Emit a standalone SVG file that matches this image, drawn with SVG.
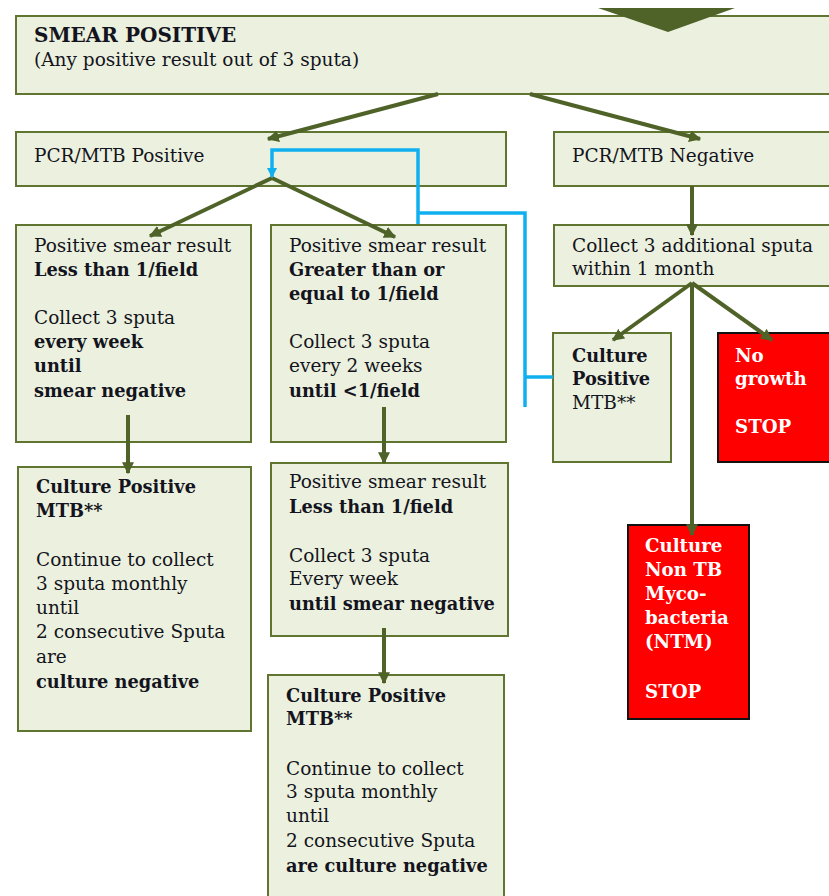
<svg xmlns="http://www.w3.org/2000/svg" width="829" height="896" viewBox="0 0 829 896">
<defs>
<style>
.box{fill:#ebf1de;stroke:#5f7530;stroke-width:2}
.red{fill:#ff0000;stroke:#111;stroke-width:2}
text{font-family:"DejaVu Serif","Liberation Serif",serif;font-size:18.5px;fill:#141420}
.b{font-weight:bold;font-size:17.8px}
.h{font-weight:bold;font-size:20px}
.w{fill:#ffffff;font-weight:bold;font-size:18.2px}
.g{fill:none;stroke:#4f6228;stroke-width:4}
.bl{fill:none;stroke:#10b0f0;stroke-width:3.5}
</style>
<marker id="ag" viewBox="0 0 10 10" refX="9" refY="5" markerWidth="12" markerHeight="12" markerUnits="userSpaceOnUse" orient="auto"><path d="M0,0 L10,5 L0,10 z" fill="#4f6228"/></marker>
<marker id="ab" viewBox="0 0 10 10" refX="9" refY="5" markerWidth="10" markerHeight="10" markerUnits="userSpaceOnUse" orient="auto"><path d="M0,0 L10,5 L0,10 z" fill="#10b0f0"/></marker>
</defs>
<rect width="829" height="896" fill="#ffffff"/>

<g id="smear">
<rect class="box" x="16" y="16" width="830" height="78"/>
<text x="34" y="42" class="h">SMEAR POSITIVE</text>
<text x="34" y="66">(Any positive result out of 3 sputa)</text>
</g>
<polygon points="598,8 735,8 668,32" fill="#4f6228"/>

<g id="pcrpos">
<rect class="box" x="16" y="132" width="490" height="54"/>
<text x="34" y="162">PCR/MTB Positive</text>
</g>
<g id="pcrneg">
<rect class="box" x="554" y="132" width="290" height="54"/>
<text x="572" y="162">PCR/MTB Negative</text>
</g>

<g id="less1">
<rect class="box" x="16" y="225" width="235" height="217"/>
<text x="34" y="252">Positive smear result</text>
<text x="34" y="276" class="b">Less than 1/field</text>
<text x="34" y="324">Collect 3 sputa</text>
<text x="34" y="348" class="b">every week</text>
<text x="34" y="372" class="b">until</text>
<text x="34" y="397" class="b">smear negative</text>
</g>

<g id="greater1">
<rect class="box" x="271" y="225" width="235" height="217"/>
<text x="289" y="252">Positive smear result</text>
<text x="289" y="276" class="b">Greater than or</text>
<text x="289" y="300" class="b">equal to 1/field</text>
<text x="289" y="348">Collect 3 sputa</text>
<text x="289" y="372">every 2 weeks</text>
<text x="289" y="397" class="b">until &lt;1/field</text>
</g>

<g id="collect3">
<rect class="box" x="554" y="225" width="290" height="61"/>
<text x="572" y="252">Collect 3 additional sputa</text>
<text x="572" y="275">within 1 month</text>
</g>

<g id="culturepos_small">
<rect class="box" x="553" y="333" width="118" height="129"/>
<text x="572" y="362" class="b">Culture</text>
<text x="572" y="385" class="b">Positive</text>
<text x="572" y="409">MTB**</text>
</g>

<g id="nogrowth">
<rect class="red" x="718" y="333" width="130" height="129"/>
<text x="735" y="362" class="w">No</text>
<text x="735" y="385" class="w">growth</text>
<text x="735" y="433" class="w">STOP</text>
</g>

<g id="ntm">
<rect class="red" x="628" y="525" width="121" height="194"/>
<text x="645" y="552" class="w">Culture</text>
<text x="645" y="576" class="w">Non TB</text>
<text x="645" y="600" class="w">Myco-</text>
<text x="645" y="624" class="w">bacteria</text>
<text x="645" y="648" class="w">(NTM)</text>
<text x="645" y="698" class="w">STOP</text>
</g>

<g id="culture_left">
<rect class="box" x="18" y="467" width="233" height="264"/>
<text x="36" y="493" class="b">Culture Positive</text>
<text x="36" y="517" class="b">MTB**</text>
<text x="36" y="566">Continue to collect</text>
<text x="36" y="590">3 sputa monthly</text>
<text x="36" y="614">until</text>
<text x="36" y="638">2 consecutive Sputa</text>
<text x="36" y="663">are</text>
<text x="36" y="688" class="b">culture negative</text>
</g>

<g id="less1_mid">
<rect class="box" x="271" y="463" width="237" height="173"/>
<text x="289" y="488">Positive smear result</text>
<text x="289" y="513" class="b">Less than 1/field</text>
<text x="289" y="562">Collect 3 sputa</text>
<text x="289" y="585">Every week</text>
<text x="289" y="610" class="b">until smear negative</text>
</g>

<g id="culture_mid">
<rect class="box" x="268" y="675" width="236" height="240"/>
<text x="286" y="702" class="b">Culture Positive</text>
<text x="286" y="725" class="b">MTB**</text>
<text x="286" y="775">Continue to collect</text>
<text x="286" y="798">3 sputa monthly</text>
<text x="286" y="822">until</text>
<text x="286" y="847">2 consecutive Sputa</text>
<text x="286" y="872" class="b">are culture negative</text>
</g>

<g id="connectors">
<line class="g" x1="438" y1="94" x2="268" y2="139" marker-end="url(#ag)"/>
<line class="g" x1="530" y1="94" x2="700" y2="139" marker-end="url(#ag)"/>
<line class="g" x1="272" y1="178" x2="150" y2="236" marker-end="url(#ag)"/>
<line class="g" x1="272" y1="178" x2="395" y2="237" marker-end="url(#ag)"/>
<line class="g" x1="692" y1="186" x2="692" y2="235" marker-end="url(#ag)"/>
<line class="g" x1="692" y1="283" x2="613" y2="340" marker-end="url(#ag)"/>
<line class="g" x1="692" y1="283" x2="772" y2="340" marker-end="url(#ag)"/>
<line class="g" x1="692" y1="283" x2="692" y2="535" marker-end="url(#ag)"/>
<line class="g" x1="128" y1="415" x2="128" y2="473" marker-end="url(#ag)"/>
<line class="g" x1="384" y1="407" x2="384" y2="463" marker-end="url(#ag)"/>
<line class="g" x1="384" y1="628" x2="384" y2="683" marker-end="url(#ag)"/>
<path class="bl" d="M418,224 V150 H272 V177" marker-end="url(#ab)"/>
<path class="bl" d="M418,213 H525 V407"/>
<path class="bl" d="M525,377 H553"/>
</g>
</svg>
